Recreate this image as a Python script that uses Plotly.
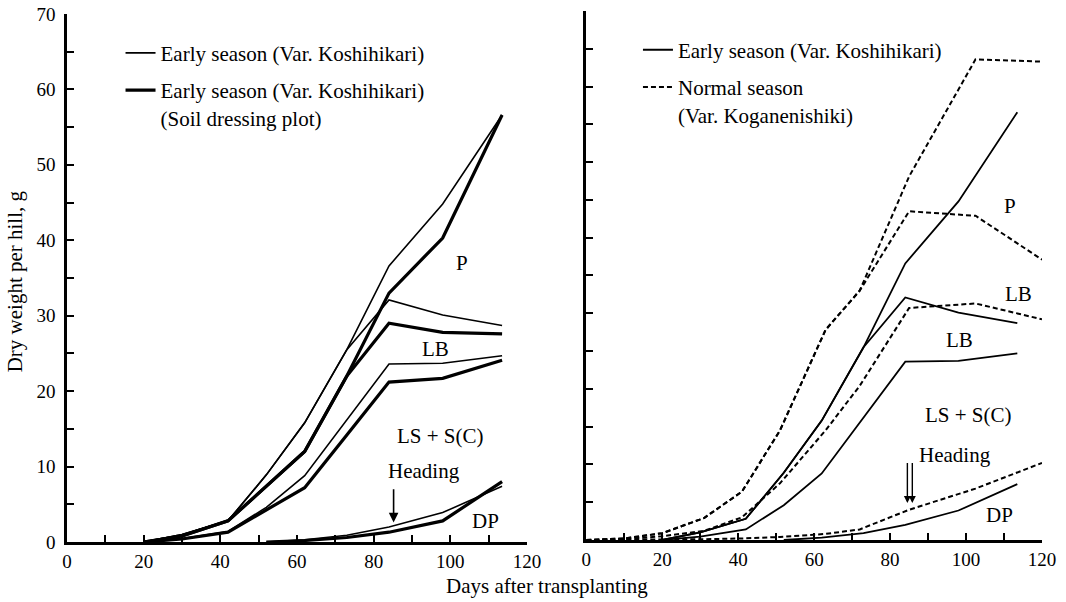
import plotly.graph_objects as go

# ---------------- data ----------------
# Early season (Var. Koshihikari) - sampling days
days_e = [20, 30, 42, 52, 62, 73, 84, 98, 113.5]
e_total = [0, 1.0, 2.8, 8.9, 15.8, 25.5, 36.6, 44.8, 56.6]        # top of P
e_lb_top = [0, 1.0, 2.8, 8.9, 15.8, 25.5, 32.1, 30.1, 28.7]        # top of LB
e_ls_top = [0, 0.45, 1.4, 4.6, 8.8, 16.2, 23.6, 23.7, 24.7]        # top of LS+S(C)
e_dp = [None, None, None, 0, 0.3, 0.9, 2.0, 3.9, 7.4]              # DP

# Early season (Var. Koshihikari), soil dressing plot
s_total = [0, 0.8, 2.8, 7.4, 12.0, 22.0, 33.0, 40.3, 56.6]
s_lb_top = [0, 0.8, 2.8, 7.4, 12.0, 22.0, 29.0, 27.8, 27.6]
s_ls_top = [0, 0.4, 1.3, 4.2, 7.2, 14.2, 21.2, 21.7, 24.1]
s_dp = [None, None, None, 0, 0.2, 0.6, 1.3, 2.8, 8.0]

# Normal season (Var. Koganenishiki)
days_n = [0, 10, 20, 31, 41, 51, 63, 72, 85, 102.5, 120]
n_total = [0, 0.2, 0.9, 2.9, 6.4, 14.5, 27.8, 33.0, 48.1, 63.6, 63.3]
n_lb_top = [0, 0.2, 0.9, 2.9, 6.4, 14.5, 27.8, 33.0, 43.5, 42.9, 37.1]
n_ls_top = [0, 0.1, 0.5, 1.2, 3.0, 7.5, 14.5, 20.4, 30.7, 31.3, 29.2]
n_dp = [0, 0, 0.1, 0.1, 0.2, 0.4, 0.8, 1.4, 4.0, 6.8, 10.2]

x_ticks = [0, 20, 40, 60, 80, 100, 120]
y_ticks = [0, 10, 20, 30, 40, 50, 60, 70]

lbl_early = "Early season (Var. Koshihikari)"
lbl_soil = "Early season (Var. Koshihikari)<br>(Soil dressing plot)"
lbl_normal = "Normal season<br>(Var. Koganenishiki)"

# region labels (day, value, text)
left_labels = [(103, 37.0, "P"), (96.1, 25.6, "LB"), (97.4, 14.0, "LS + S(C)"),
               (93, 9.4, "Heading"), (109.1, 2.8, "DP")]
right_labels = [(111.5, 44.2, "P"), (113.8, 32.5, "LB"), (98.3, 26.5, "LB"),
                (100.6, 16.6, "LS + S(C)"), (97, 11.3, "Heading"), (108.9, 3.3, "DP")]
heading_day = 85.2

FONT = "Liberation Serif"
TXT = 21
thin_w, thick_w, dash_w = 1.6, 3.2, 2.0

fig = go.Figure()

def add(x, y, w, dash, xa, ya, name, group, legend, show):
    fig.add_trace(go.Scatter(
        x=x, y=y, mode="lines", line=dict(color="black", width=w, dash=dash),
        xaxis=xa, yaxis=ya, name=name, legendgroup=group, legend=legend,
        showlegend=show, connectgaps=False, hoverinfo="skip"))

# left panel
for i, ys in enumerate([e_total, e_lb_top, e_ls_top, e_dp]):
    add(days_e, ys, thin_w, "solid", "x", "y", lbl_early, "l_thin", "legend", i == 0)
for i, ys in enumerate([s_total, s_lb_top, s_ls_top, s_dp]):
    add(days_e, ys, thick_w, "solid", "x", "y", lbl_soil, "l_thick", "legend", i == 0)

# right panel
for i, ys in enumerate([e_total, e_lb_top, e_ls_top, e_dp]):
    add(days_e, ys, 1.8, "solid", "x2", "y2", lbl_early, "r_solid", "legend2", i == 0)
for i, ys in enumerate([n_total, n_lb_top, n_ls_top, n_dp]):
    add(days_n, ys, dash_w, "5px,3px", "x2", "y2", lbl_normal, "r_dash", "legend2", i == 0)

annos = []
for d, v, t in left_labels:
    annos.append(dict(x=d, y=v, xref="x", yref="y", text=t, showarrow=False,
                      font=dict(family=FONT, size=TXT, color="black")))
for d, v, t in right_labels:
    annos.append(dict(x=d, y=v, xref="x2", yref="y2", text=t, showarrow=False,
                      font=dict(family=FONT, size=TXT, color="black")))
# heading arrows
annos.append(dict(x=heading_day, y=2.6, ax=heading_day, ay=7.2, xref="x", yref="y",
                  axref="x", ayref="y", text="", showarrow=True, arrowhead=2,
                  arrowsize=1.2, arrowwidth=1.6, arrowcolor="black"))
for dx in (-0.65, 0.65):
    annos.append(dict(x=heading_day + dx, y=4.9, ax=heading_day + dx, ay=10.4,
                      xref="x2", yref="y2", axref="x2", ayref="y2", text="",
                      showarrow=True, arrowhead=2, arrowsize=1.0, arrowwidth=1.4,
                      arrowcolor="black"))
# axis titles
annos.append(dict(x=0.492, y=-0.083, xref="paper", yref="paper",
                  xanchor="center", yanchor="middle",
                  text="Days after transplanting", showarrow=False,
                  font=dict(family=FONT, size=TXT, color="black")))
annos.append(dict(x=-0.053, y=0.4915, xref="paper", yref="paper", textangle=-90,
                  xanchor="center", yanchor="middle",
                  text="Dry weight per hill, g", showarrow=False,
                  font=dict(family=FONT, size=TXT, color="black")))

axis_common = dict(showline=True, linecolor="black", linewidth=2.5, showgrid=False,
                   zeroline=False, ticks="inside", ticklen=7, tickwidth=2,
                   automargin=False,
                   tickcolor="black", tickfont=dict(family=FONT, size=19, color="black"))

xcommon = dict(axis_common, range=[0, 120], tickvals=x_ticks,
               minor=dict(dtick=10, ticks="inside", ticklen=7, tickwidth=2, tickcolor="black"))
ycommon = dict(axis_common, range=[0, 70], tickvals=y_ticks,
               minor=dict(dtick=5, ticks="inside", ticklen=7, tickwidth=2, tickcolor="black"))

legend_common = dict(xanchor="left", yanchor="top", bgcolor="rgba(0,0,0,0)",
                     font=dict(family=FONT, size=TXT, color="black"), valign="top",
                     tracegroupgap=7, itemwidth=30)

fig.update_layout(
    width=1066, height=602,
    margin=dict(l=67, r=24, t=11, b=60, autoexpand=False),
    paper_bgcolor="white", plot_bgcolor="white",
    font=dict(family=FONT, color="black"),
    xaxis=dict(xcommon, domain=[0, 0.4718], anchor="y"),
    yaxis=dict(ycommon, domain=[0, 0.9944], anchor="x", ticklabelstandoff=5),
    xaxis2=dict(xcommon, domain=[0.5326, 1], anchor="y2"),
    yaxis2=dict(ycommon, domain=[0.0038, 1], anchor="x2", showticklabels=False),
    legend=dict(legend_common, x=0.0549, y=0.959),
    legend2=dict(legend_common, x=0.5856, y=0.965),
    annotations=annos,
    showlegend=True,
)

# remove the default 8px page margin so the figure fills the window exactly
fig.write_html("out.html", config={"displayModeBar": False},
               post_script="document.body.style.margin='0px';")
